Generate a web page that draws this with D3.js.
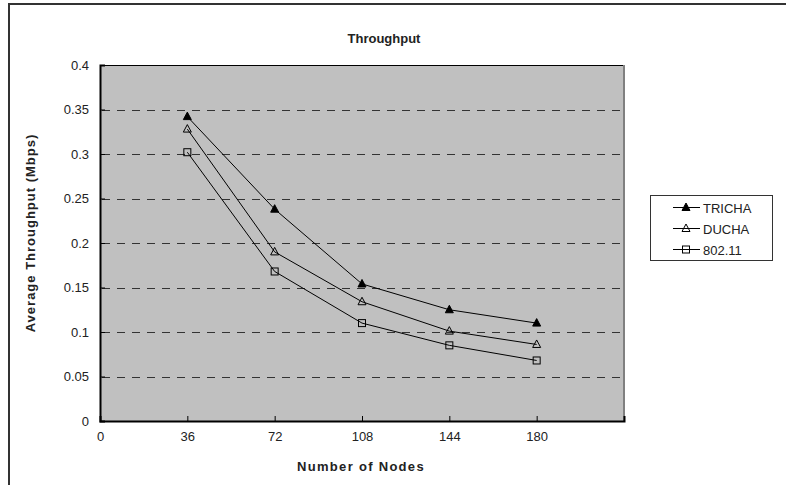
<!DOCTYPE html>
<html>
<head>
<meta charset="utf-8">
<script src="https://cdn.jsdelivr.net/npm/d3@7"></script>
<style>
  body { margin: 0; background: #fff; }
  text { font-family: "Liberation Sans", Arial, sans-serif; fill: #222; }
</style>
</head>
<body>
<div id="chart"></div>
<script>
// Data
const nodes = [36, 72, 108, 144, 180];
const tricha = [0.342, 0.238, 0.154, 0.125, 0.110];
const ducha = [0.328, 0.190, 0.134, 0.101, 0.086];
const wifi = [0.302, 0.168, 0.110, 0.085, 0.068];
const seriesNames = ["TRICHA", "DUCHA", "802.11"];
const xTicks = [0, 36, 72, 108, 144, 180];
const yTicks = [0, 0.05, 0.1, 0.15, 0.2, 0.25, 0.3, 0.35, 0.4];

const width = 786, height = 485;
const plot = {left: 100, top: 65, right: 624, bottom: 421};

const svg = d3.select("#chart").append("svg")
    .attr("width", width)
    .attr("height", height);

// outer frame (only top and left show in the picture)
svg.append("rect")
    .attr("x", 9).attr("y", 4)
    .attr("width", 790).attr("height", 500)
    .attr("fill", "none")
    .attr("stroke", "#333")
    .attr("stroke-width", 2);

const x = d3.scaleLinear().domain([0, 216]).range([plot.left, plot.right]);
const y = d3.scaleLinear().domain([0, 0.4]).range([plot.bottom, plot.top]);

// plot background
svg.append("rect")
    .attr("x", plot.left).attr("y", plot.top)
    .attr("width", plot.right - plot.left)
    .attr("height", plot.bottom - plot.top)
    .attr("fill", "#c0c0c0");

// dashed grid
svg.append("g").selectAll("line")
    .data(yTicks.filter(d => d > 0 && d < 0.4))
    .join("line")
    .attr("x1", plot.left).attr("x2", plot.right)
    .attr("y1", d => Math.round(y(d)) + 0.5).attr("y2", d => Math.round(y(d)) + 0.5)
    .attr("stroke", "#333")
    .attr("stroke-width", 1)
    .attr("stroke-dasharray", "8,7")
    .attr("stroke-dashoffset", -2);

// borders of the plot area
svg.append("line")
    .attr("x1", plot.left).attr("x2", plot.right)
    .attr("y1", plot.top + 0.5).attr("y2", plot.top + 0.5)
    .attr("stroke", "#000").attr("stroke-width", 1);
svg.append("line")
    .attr("x1", plot.right).attr("x2", plot.right)
    .attr("y1", plot.top).attr("y2", plot.bottom)
    .attr("stroke", "#808080").attr("stroke-width", 2);

// axes
const xAxis = d3.axisBottom(x).tickValues(xTicks.concat([216])).tickSize(-5).tickPadding(11)
    .tickFormat(d => d === 216 ? "" : d);
const gx = svg.append("g")
    .attr("transform", `translate(0,${plot.bottom})`)
    .call(xAxis);
gx.select(".domain").attr("stroke", "#000").attr("stroke-width", 2);
gx.selectAll(".tick line").attr("stroke", "#000");
gx.selectAll(".tick text").attr("font-size", 13).attr("fill", "#333")
    .attr("font-family", "Liberation Sans, Arial, sans-serif");

const yAxis = d3.axisLeft(y).tickValues(yTicks).tickSize(-5).tickPadding(11)
    .tickFormat(d => d3.format("")(+d.toFixed(2)));
const gy = svg.append("g")
    .attr("transform", `translate(${plot.left},0)`)
    .call(yAxis);
gy.select(".domain").attr("stroke", "#000").attr("stroke-width", 2);
gy.selectAll(".tick line").attr("stroke", "#000");
gy.selectAll(".tick text").attr("font-size", 13).attr("fill", "#333")
    .attr("font-family", "Liberation Sans, Arial, sans-serif");

// series
const series = [
    {name: seriesNames[0], values: tricha, marker: "triFilled"},
    {name: seriesNames[1], values: ducha, marker: "triOpen"},
    {name: seriesNames[2], values: wifi, marker: "square"}
];

const line = d3.line()
    .x((d, i) => x(nodes[i]))
    .y(d => y(d));

function drawMarker(g, type, cx, cy) {
    if (type === "square") {
        g.append("rect")
            .attr("x", cx - 3.5).attr("y", cy - 3.5)
            .attr("width", 7).attr("height", 7)
            .attr("fill", "none")
            .attr("stroke", "#000").attr("stroke-width", 1);
    } else {
        g.append("path")
            .attr("d", `M${cx},${cy - 4.5} L${cx + 4},${cy + 3} L${cx - 4},${cy + 3} Z`)
            .attr("fill", type === "triFilled" ? "#000" : "none")
            .attr("stroke", "#000").attr("stroke-width", 1);
    }
}

series.forEach(s => {
    const g = svg.append("g");
    g.append("path")
        .attr("d", line(s.values))
        .attr("fill", "none")
        .attr("stroke", "#000")
        .attr("stroke-width", 1);
    s.values.forEach((v, i) => drawMarker(g, s.marker, x(nodes[i]), y(v)));
});

// titles
svg.append("text")
    .attr("x", 384).attr("y", 43)
    .attr("text-anchor", "middle")
    .attr("font-size", 13).attr("font-weight", "bold")
    .text("Throughput");

svg.append("text")
    .attr("x", 361).attr("y", 471)
    .attr("text-anchor", "middle")
    .attr("font-size", 13).attr("font-weight", "bold")
    .attr("letter-spacing", 1.3)
    .text("Number of Nodes");

svg.append("text")
    .attr("transform", "translate(35,233) rotate(-90)")
    .attr("text-anchor", "middle")
    .attr("font-size", 13).attr("font-weight", "bold")
    .attr("letter-spacing", 1)
    .text("Average Throughput (Mbps)");

// legend
const legend = svg.append("g");
legend.append("rect")
    .attr("x", 650.5).attr("y", 195.5)
    .attr("width", 122).attr("height", 65)
    .attr("fill", "#fff")
    .attr("stroke", "#333").attr("stroke-width", 1);

series.forEach((s, i) => {
    const ly = 207.5 + i * 21;
    legend.append("line")
        .attr("x1", 673).attr("x2", 700)
        .attr("y1", ly).attr("y2", ly)
        .attr("stroke", "#000");
    drawMarker(legend, s.marker, 686, ly);
    legend.append("text")
        .attr("x", 703).attr("y", ly + 5)
        .attr("font-size", 13).attr("fill", "#333")
        .text(s.name);
});
</script>
</body>
</html>
